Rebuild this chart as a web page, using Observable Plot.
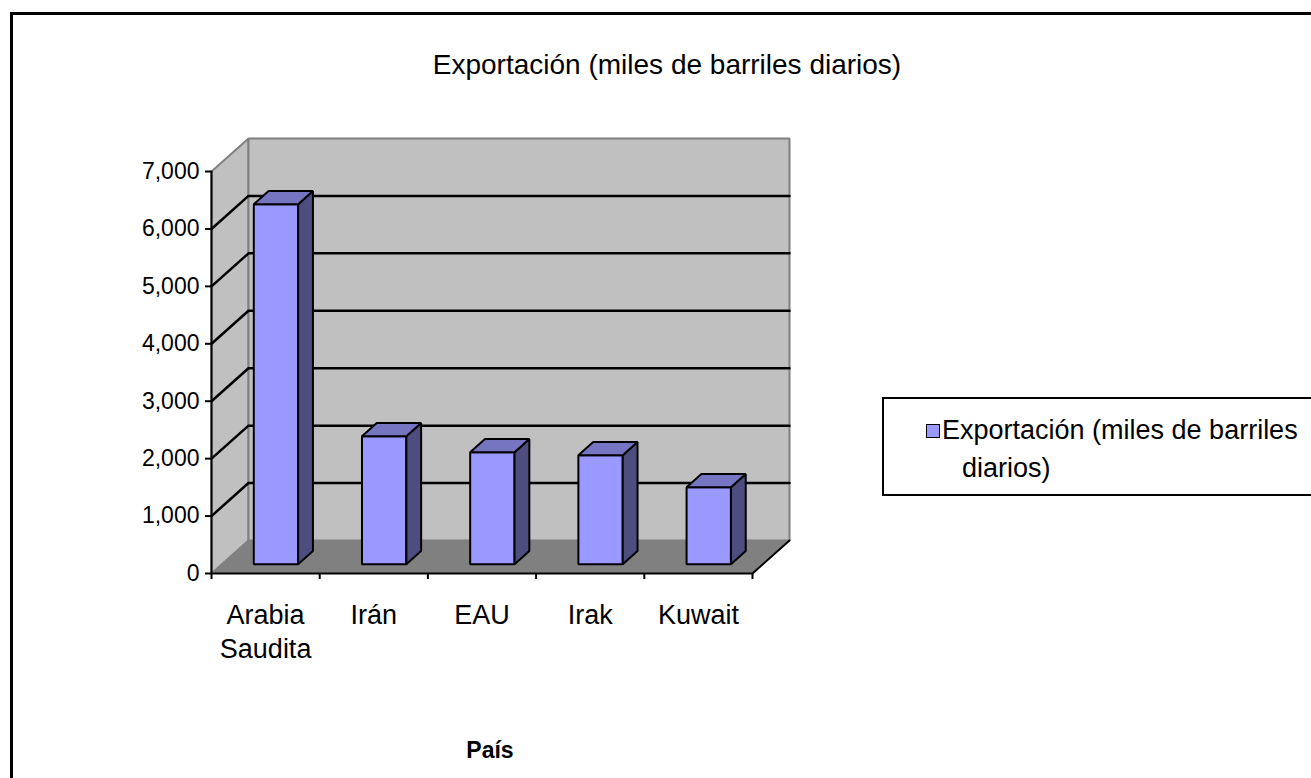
<!DOCTYPE html>
<html>
<head>
<meta charset="utf-8">
<script src="https://cdn.jsdelivr.net/npm/d3@7"></script>
<script src="https://cdn.jsdelivr.net/npm/@observablehq/plot@0.6"></script>
<style>
  html, body { margin: 0; padding: 0; width: 1311px; height: 778px; overflow: hidden; background: #fff; font-family: "Liberation Sans", Arial, sans-serif; }
  #frame { position: absolute; left: 10px; top: 12px; width: 1400px; height: 900px; border: 3px solid #000; box-sizing: border-box; }
  #chart { position: absolute; left: 0; top: 0; }
  #title { position: absolute; left: 0; width: 1334px; top: 49px; line-height: 32px; text-align: center; font-size: 28px; color: #000; }
  #xtitle { position: absolute; left: 390px; width: 200px; top: 735px; line-height: 30px; text-align: center; font-size: 23px; font-weight: bold; }
  #legend { position: absolute; left: 882px; top: 397px; width: 500px; height: 99px; border: 2px solid #000; box-sizing: border-box; }
  #legend .sw { position: absolute; left: 42px; top: 25px; width: 12px; height: 12px; background: #9999ff; border: 1.5px solid #000; }
  #legend .t { position: absolute; left: 58px; top: 12px; font-size: 27px; line-height: 38px; white-space: nowrap; }
  #legend .t2 { padding-left: 20px; }
</style>
</head>
<body>
<div id="frame"></div>
<div id="chart"></div>
<div id="title">Exportación (miles de barriles diarios)</div>
<div id="xtitle">País</div>
<div id="legend"><div class="sw"></div><div class="t">Exportación (miles de barriles<br><span class="t2">diarios)</span></div></div>
<script>
// ---- data ----
const categories = ["Arabia\nSaudita", "Irán", "EAU", "Irak", "Kuwait"];
const exports = [6270, 2230, 1950, 1900, 1340];
const yTicks = [0, 1000, 2000, 3000, 4000, 5000, 6000, 7000];
const yMax = 7000;

// ---- pseudo-3D projection constants (style) ----
const DX = 0.342;   // depth shift in category slots
const DY = 575;     // depth shift in value units
const D0 = 0.28, D1 = 0.68;  // bar depth span (fraction of depth)
const BW = 0.41;    // bar width (fraction of slot)
const n = categories.length;

const proj = (x, v, d) => ({x: x + d * DX, y: v + d * DY});

function poly(id, pts) { return pts.map(p => ({...p, id})); }

const sideWall = poly("side", [proj(0, 0, 0), proj(0, yMax, 0), proj(0, yMax, 1), proj(0, 0, 1)]);
const backWall = poly("back", [proj(0, 0, 1), proj(0, yMax, 1), proj(n, yMax, 1), proj(n, 0, 1)]);
const floor = poly("floor", [proj(0, 0, 0), proj(n, 0, 0), proj(n, 0, 1), proj(0, 0, 1)]);
const grid = yTicks.filter(v => v > 0 && v < yMax).flatMap(v =>
  poly("g" + v, [proj(0, v, 0), proj(0, v, 1), proj(n, v, 1)]));
const floorEdge = poly("fe", [proj(0, 0, 0), proj(n, 0, 0), proj(n, 0, 1)]);
const yAxisLine = poly("ya", [proj(0, 0, 0), proj(0, yMax, 0)]);

const fronts = [], sides = [], tops = [];
exports.forEach((v, i) => {
  const xl = i + 0.5 - BW / 2, xr = i + 0.5 + BW / 2;
  fronts.push(...poly("f" + i, [proj(xl, 0, D0), proj(xl, v, D0), proj(xr, v, D0), proj(xr, 0, D0)]));
  sides.push(...poly("s" + i, [proj(xr, 0, D0), proj(xr, v, D0), proj(xr, v, D1), proj(xr, 0, D1)]));
  tops.push(...poly("t" + i, [proj(xl, v, D0), proj(xr, v, D0), proj(xr, v, D1), proj(xl, v, D1)]));
});

const labels = categories.map((c, i) => ({x: i + 0.5, y: 0, c}));

const closed = (data, fill, stroke, sw) => Plot.line(data, {x: "x", y: "y", z: "id", curve: "linear-closed", fill, stroke, strokeWidth: sw, strokeLinejoin: "miter"});
const open = (data, stroke, sw) => Plot.line(data, {x: "x", y: "y", z: "id", stroke, strokeWidth: sw});

const chart = Plot.plot({
  width: 1311,
  height: 778,
  marginLeft: 211,
  marginRight: 522,
  marginTop: 138,
  marginBottom: 205,
  style: {fontSize: "22px", fontFamily: "'Liberation Sans', Arial, sans-serif", background: "transparent", color: "#000"},
  x: {type: "linear", domain: [0, n + DX], axis: null},
  y: {type: "linear", domain: [0, yMax + DY], axis: null},
  marks: [
    closed(sideWall, "#c0c0c0", "#808080", 2),
    closed(backWall, "#c0c0c0", "#808080", 2),
    closed(floor, "#808080", "#808080", 1),
    open(grid, "#000", 2.5),
    open(floorEdge, "#000", 2),
    open(yAxisLine, "#000", 2),
    Plot.axisY({ticks: yTicks, tickSize: 6, tickPadding: 6, strokeWidth: 2, tickFormat: d3.format(","), anchor: "left", fontSize: 23, label: null}),
    Plot.axisX({ticks: d3.range(n + 1), tickSize: 6, strokeWidth: 2, tickFormat: () => "", anchor: "bottom", label: null}),
    closed(fronts, "#9999ff", "#000", 2),
    closed(sides, "#4d4d80", "#000", 2),
    closed(tops, "#7575c2", "#000", 2),
    Plot.text(labels, {x: "x", y: "y", text: "c", dy: 26, lineAnchor: "top", lineHeight: 1.26, fontSize: 27, fill: "#000"})
  ]
});
document.getElementById("chart").appendChild(chart);
</script>
</body>
</html>
